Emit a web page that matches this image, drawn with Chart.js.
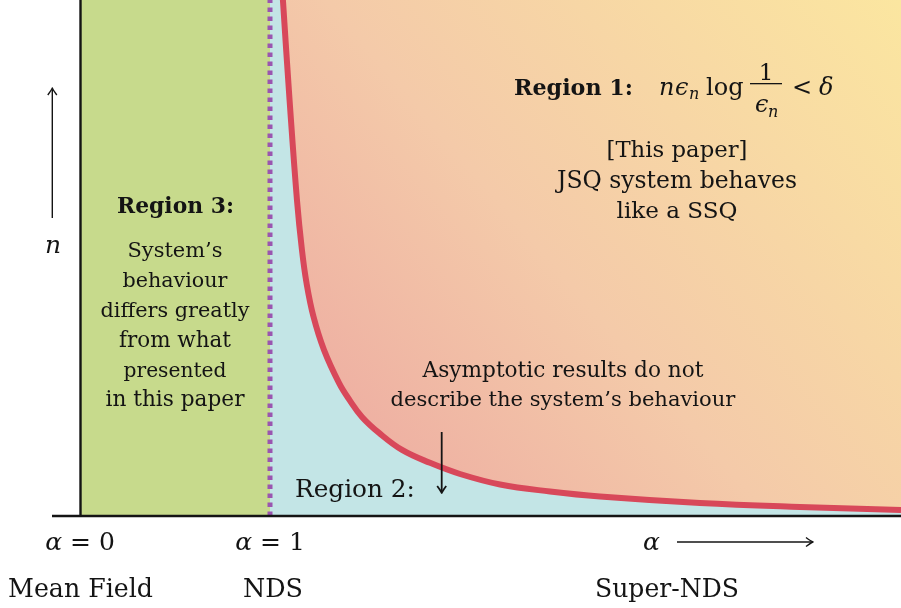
<!DOCTYPE html>
<html><head><meta charset="utf-8">
<script src="https://cdn.jsdelivr.net/npm/chart.js@4.4.1/dist/chart.umd.min.js"></script>
<style>html,body{margin:0;padding:0;background:#fff}canvas{display:block}</style>
</head><body>
<canvas id="c" width="901" height="608"></canvas>
<script>
// ---- data ----
const curveAlpha = [1.058, 1.068, 1.103, 1.142, 1.168, 1.192, 1.229, 1.284, 1.363, 1.418, 1.484, 1.574, 1.695, 1.842, 2.000, 2.211, 2.474, 2.737, 3.263, 3.789, 4.321];
const curveN     = [106,   100,   80.6,  61.2,  51.6,  45.2,  38.6,  32.2,  25.8,  22.5,  19.2,  16.1,  12.8,  10.3,  8.14,  6.10,  4.75,  3.78,  2.52,  1.74,  1.16];
const ndsAlpha = [1, 1];
const ndsN = [0, 100];
const region2Alpha = [1, 4.321];
const region3Alpha = [0, 1];
const regionTop = [100, 100];
const tickValues = [0, 1];
const tickLabels = ['α = 0', 'α = 1'];
const regimeLabels = ['Mean Field', 'NDS', 'Super-NDS'];
const region3Lines = ['System’s', 'behaviour', 'differs greatly', 'from what', 'presented', 'in this paper'];
const region1Lines = ['[This paper]', 'JSQ system behaves', 'like a SSQ'];
const asymLines = ['Asymptotic results do not', 'describe the system’s behaviour'];

const FAM = '"DejaVu Serif", serif';
const INK = '#141414';

function pts(xs, ys) { return xs.map((x, i) => ({x, y: ys[i]})); }

function fitText(c, text, x, base, w, style, align) {
  c.font = style + ' 20px ' + FAM;
  const m = c.measureText(text).width;
  const size = 20 * w / m;
  c.font = style + ' ' + size.toFixed(2) + 'px ' + FAM;
  c.textAlign = align || 'center';
  c.textBaseline = 'alphabetic';
  c.fillText(text, x, base);
}
function txt(c, text, x, base, size, style, align) {
  c.font = (style || '') + ' ' + size + 'px ' + FAM;
  c.textAlign = align || 'left';
  c.textBaseline = 'alphabetic';
  c.fillText(text, x, base);
}
function arrow(c, x1, y1, x2, y2, lw) {
  c.save();
  c.strokeStyle = INK; c.lineWidth = lw; c.lineCap = 'butt';
  const ang = Math.atan2(y2 - y1, x2 - x1);
  c.beginPath(); c.moveTo(x1, y1); c.lineTo(x2 - Math.cos(ang) * 1.5, y2 - Math.sin(ang) * 1.5); c.stroke();
  c.translate(x2, y2); c.rotate(ang);
  c.lineWidth = lw; c.lineJoin = 'round';
  c.beginPath();
  c.moveTo(-7, -4.5);
  c.quadraticCurveTo(-2, -0.8, 0, 0);
  c.quadraticCurveTo(-2, 0.8, -7, 4.5);
  c.stroke();
  c.restore();
}

const overlay = {
  id: 'overlay',
  afterDatasetsDraw(chart) {
    const c = chart.ctx, a = chart.chartArea;
    const xs = chart.scales.x;
    c.save();
    // axes
    c.strokeStyle = INK; c.lineWidth = 2.4;
    c.beginPath(); c.moveTo(a.left + 0.5, 0); c.lineTo(a.left + 0.5, a.bottom); c.stroke();
    c.beginPath(); c.moveTo(52, a.bottom); c.lineTo(a.right, a.bottom); c.stroke();

    c.fillStyle = INK;
    // Region 1
    fitText(c, 'Region 1:', 514, 95, 119, 'bold', 'left');
    txt(c, 'n', 659, 95, 24, 'italic');
    txt(c, 'ϵ', 675, 95, 24, 'italic');
    txt(c, 'n', 689, 99, 16, 'italic');
    txt(c, 'log', 706, 95, 24, '');
    txt(c, '1', 766, 80, 23, '', 'center');
    c.fillRect(750, 83, 32, 1.3);
    txt(c, 'ϵ', 755, 112, 24, 'italic');
    txt(c, 'n', 768, 117, 16, 'italic');
    txt(c, '<', 792, 95, 24, '');
    txt(c, 'δ', 819, 95, 24, 'italic');

    const r1w = [141, 240, 121];
    const r1b = [157, 188, 218];
    region1Lines.forEach((t, i) => fitText(c, t, 677, r1b[i], r1w[i], '', 'center'));

    // Region 3
    fitText(c, 'Region 3:', 175.5, 213, 117, 'bold', 'center');
    const r3w = [95, 105, 149, 112, 103, 139];
    const r3b = [257, 287, 317, 347, 377, 406];
    region3Lines.forEach((t, i) => fitText(c, t, 175, r3b[i], r3w[i], '', 'center'));

    // Region 2 and asymptotic note
    fitText(c, 'Region 2:', 295, 497, 120, '', 'left');
    const aw = [281, 345], ab = [377, 406];
    asymLines.forEach((t, i) => fitText(c, t, 563, ab[i], aw[i], '', 'center'));
    arrow(c, 441.7, 432, 441.7, 493, 1.8);

    // n axis label and arrow
    txt(c, 'n', 53, 253, 25, 'italic', 'center');
    arrow(c, 52.3, 218, 52.3, 88, 1.4);

    // tick labels
    tickValues.forEach((v, i) => {
      const px = xs.getPixelForValue(v);
      c.font = 'italic 25px ' + FAM;
      const wA = c.measureText('α').width;
      c.font = '25px ' + FAM;
      const rest = tickLabels[i].slice(1);
      const wR = c.measureText(rest).width;
      const left = px - (wA + wR) / 2;
      txt(c, 'α', left, 550, 25, 'italic');
      txt(c, rest, left + wA, 550, 25, '');
    });
    txt(c, 'α', 643, 550, 25, 'italic');
    arrow(c, 677, 542, 813, 542, 1.4);

    // regime names
    const rx = [80.5, 273, 667], rw = [145, 60, 144];
    regimeLabels.forEach((t, i) => fitText(c, t, rx[i], 597, rw[i], '', 'center'));
    c.restore();
  }
};

function grad(ctx) {
  const ch = ctx.chart, a = ch.chartArea;
  if (!a) return 'rgba(0,0,0,0)';
  const g = ch.ctx.createLinearGradient(ch.scales.x.getPixelForValue(1.16), a.bottom, a.right, a.top);
  g.addColorStop(0, 'rgb(236,166,160)');
  g.addColorStop(0.45, 'rgb(244,202,169)');
  g.addColorStop(1, 'rgb(251,230,160)');
  return g;
}

new Chart(document.getElementById('c'), {
  type: 'line',
  data: {
    datasets: [
      { label: 'boundary', data: pts(curveAlpha, curveN), borderColor: '#d8485a', borderWidth: 6,
        pointRadius: 0, fill: 'end', backgroundColor: grad, tension: 0.4, order: 0 },
      { label: 'NDS', data: pts(ndsAlpha, ndsN), borderColor: '#9a55b0', borderWidth: 5,
        borderDash: [4.5, 4.5], pointRadius: 0, fill: false, order: 1 },
      { label: 'Region 2', data: pts(region2Alpha, regionTop), borderWidth: 0, borderColor: 'rgba(0,0,0,0)',
        fill: 'origin', backgroundColor: '#c3e5e6', pointRadius: 0, order: 2 },
      { label: 'Region 3', data: pts(region3Alpha, regionTop), borderWidth: 0, borderColor: 'rgba(0,0,0,0)',
        fill: 'origin', backgroundColor: '#c7da8c', pointRadius: 0, order: 3 }
    ]
  },
  options: {
    responsive: false, animation: false, events: [],
    layout: { padding: { left: 80, right: 0, top: 0, bottom: 92 } },
    scales: {
      x: { type: 'linear', min: 0, max: 4.321, display: false },
      y: { type: 'linear', min: 0, max: 100, display: false }
    },
    plugins: { legend: { display: false }, tooltip: { enabled: false } }
  },
  plugins: [overlay]
});
</script>
</body></html>
